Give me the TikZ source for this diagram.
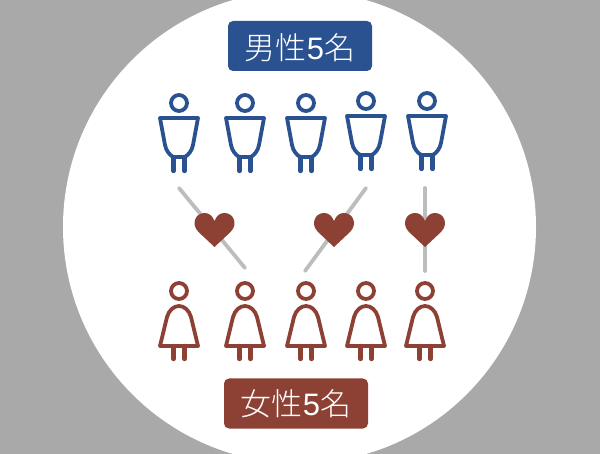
\documentclass[tikz,border=0pt]{standalone}
\usepackage{fontspec}
\newfontfamily\cjk{Noto Sans CJK JP Light}
\newfontfamily\lat{Liberation Sans}
\definecolor{bluec}{HTML}{2A5190}
\definecolor{redc}{HTML}{8C4134}
\definecolor{bgc}{HTML}{A9A9A9}
\definecolor{linec}{HTML}{BDBDBD}
\tikzset{
  x=1pt,y=-1pt,
  label box/.style={rounded corners=5pt,minimum width=144pt,minimum height=50pt,inner sep=0pt,text=white,text height=30pt,font=\fontsize{31}{31}\selectfont\cjk},
  figure line/.style={line width=3.8pt,line join=round},
  leg line/.style={line width=4.4pt,line cap=round},
  tie/.style={linec,line width=3.8pt,line cap=round},
  man/.pic={
    \draw[figure line] (0,0) circle (8);
    \draw[figure line] (-19,15) -- (19,15) -- (14,42) .. controls (13,48) and (9,52) .. (6,54) -- (-6,54) .. controls (-9,52) and (-13,48) .. (-14,42) -- cycle;
    \draw[leg line] (-5.5,54) -- (-5.5,68) (5.5,54) -- (5.5,68);
  },
  woman/.pic={
    \draw[figure line] (0,0) circle (8);
    \draw[figure line] (-19,55) -- (19,55) -- (12,26) .. controls (10,19) and (5,15) .. (0,15) .. controls (-5,15) and (-10,19) .. (-12,26) -- cycle;
    \draw[leg line] (-5.5,55) -- (-5.5,68) (5.5,55) -- (5.5,68);
  },
  heart/.pic={
    \fill[redc] (0,34) -- (-16,19) .. controls (-24,11) and (-19,0) .. (-10,0) .. controls (-5,0) and (-2,3) .. (0,8) .. controls (2,3) and (5,0) .. (10,0) .. controls (19,0) and (24,11) .. (16,19) -- cycle;
  },
}
\begin{document}
\begin{tikzpicture}
\useasboundingbox (0,0) rectangle (600,454);
\fill[bgc] (0,0) rectangle (600,454);
\begin{scope}
\clip (0,0) rectangle (600,454);
\fill[white] (299.5,227) circle (236.5);
\end{scope}
\node[label box,fill=bluec,text depth=3.4pt] (mlabel) at (300,46) {男性{\lat 5}名};
\node[label box,fill=redc,text depth=5.4pt] (flabel) at (296,403.5) {女性{\lat 5}名};
\foreach \x/\y in {179/103,245/103,306/103,366/101,427/101}
  \pic[bluec] at (\x,\y) {man};
\foreach \x in {179,245,306,366,425}
  \pic[redc] at (\x,291) {woman};
\coordinate (a1) at (179,188); \coordinate (b1) at (245,268);
\coordinate (a2) at (366,188); \coordinate (b2) at (305,271);
\coordinate (a3) at (425,188); \coordinate (b3) at (425,271);
\draw[tie] (a1) -- (b1);
\draw[tie] (a2) -- (b2);
\draw[tie] (a3) -- (b3);
\pic at (214.5,213) {heart};
\pic at (334,213) {heart};
\pic at (425,213) {heart};
\end{tikzpicture}
\end{document}
